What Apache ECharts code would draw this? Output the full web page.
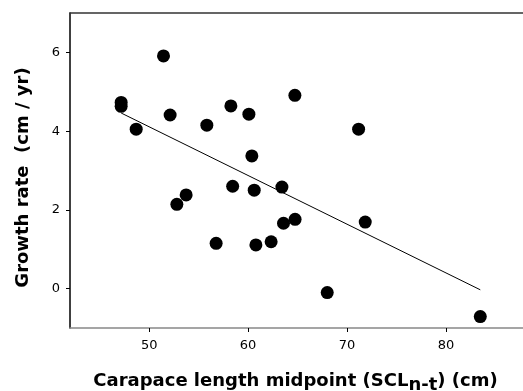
<!DOCTYPE html>
<html>
<head>
<meta charset="utf-8">
<script src="https://cdn.jsdelivr.net/npm/echarts@6/dist/echarts.min.js"></script>
<style>
html, body { margin: 0; padding: 0; background: #fff; }
#chart { width: 523px; height: 391px; }
</style>
</head>
<body>
<div id="chart"></div>
<script>
// carapace length midpoint (cm)
var sclValues = [51.45, 47.17, 47.17, 52.12, 48.69, 55.83, 58.26, 60.08, 64.73, 71.17,
	60.38, 58.44, 60.62, 63.42, 52.8, 53.74, 63.58, 64.75, 71.84, 56.77,
	60.79, 62.33, 68.0, 83.47];
// growth rate (cm / yr)
var growthValues = [5.91, 4.73, 4.63, 4.41, 4.05, 4.15, 4.64, 4.43, 4.91, 4.05,
	3.37, 2.60, 2.50, 2.58, 2.14, 2.38, 1.66, 1.76, 1.69, 1.15,
	1.11, 1.19, -0.10, -0.71];
// regression line end points
var fitX = [47.17, 83.47];
var fitY = [4.46, -0.03];
// tick labels
var xTicks = [50, 60, 70, 80];
var yTicks = [0, 2, 4, 6];

var font = 'DejaVu Sans, Liberation Sans, Arial, sans-serif';

var points = [];
for (var i = 0; i < sclValues.length; i++) {
	points.push([sclValues[i], growthValues[i]]);
}
var fitLine = [];
for (var j = 0; j < fitX.length; j++) {
	fitLine.push([fitX[j], fitY[j]]);
}

var myChart = echarts.init(document.getElementById('chart'));
var option = {
	backgroundColor: '#fff',
	animation: false,
	//框的右边超出画面
	grid: { left: 70, right: -12, top: 13, bottom: 63, containLabel: false, outerBoundsMode: 'none' },
	xAxis: [{
		type: 'value',
		min: 42, max: 89, interval: 1,
		axisLabel: { color: '#000', fontFamily: font, fontSize: 13, margin: 11, customValues: xTicks },
		axisLine: { show: true, onZero: false, lineStyle: { color: '#888', width: 1.5 } },
		axisTick: { show: true, length: 4, lineStyle: { color: '#000' }, customValues: xTicks },
		splitLine: { show: false },
		name: '{a|Carapace length midpoint (SCL}{s|n-t}{a|) (cm)}',
		nameLocation: 'middle',
		nameGap: 40,
		nameTextStyle: {
			padding: [0, 14, 0, 0],
			rich: {
				a: { fontFamily: font, fontSize: 18, fontWeight: 'bold', color: '#000' },
				s: { fontFamily: font, fontSize: 18, fontWeight: 'bold', color: '#000', padding: [8, 0, 0, 0] }
			}
		}
	}, {
		// top border of the box
		type: 'value',
		position: 'top',
		min: 42, max: 89,
		axisLine: { show: true, onZero: false, lineStyle: { color: '#333', width: 1.5 } },
		axisTick: { show: false },
		axisLabel: { show: false },
		splitLine: { show: false }
	}],
	yAxis: {
		type: 'value',
		min: -1, max: 7, interval: 1,
		axisLabel: { color: '#000', fontFamily: font, fontSize: 13, margin: 10, customValues: yTicks },
		axisLine: { show: true, onZero: false, lineStyle: { color: '#000', width: 1.5 } },
		axisTick: { show: true, length: 4, lineStyle: { color: '#000' }, customValues: yTicks },
		splitLine: { show: false },
		name: 'Growth rate  (cm / yr)',
		nameLocation: 'middle',
		nameGap: 38,
		nameTextStyle: { fontFamily: font, fontSize: 18, fontWeight: 'bold', color: '#000', padding: [0, 14, 0, 0] }
	},
	series: [{
		type: 'line',
		data: fitLine,
		symbol: 'none',
		lineStyle: { color: '#000', width: 1 },
		silent: true
	}, {
		type: 'scatter',
		data: points,
		symbol: 'circle',
		symbolSize: 13,
		itemStyle: { color: '#000', opacity: 1 }
	}]
};
myChart.setOption(option);
</script>
</body>
</html>
